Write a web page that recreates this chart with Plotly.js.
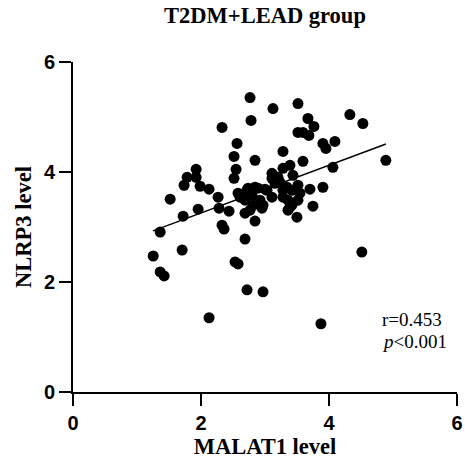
<!DOCTYPE html>
<html>
<head>
<meta charset="utf-8">
<script src="https://cdn.plot.ly/plotly-3.0.1.min.js"></script>
<style>html,body{margin:0;padding:0;background:#fff}#chart{width:465px;height:465px}</style>
</head>
<body>
<div id="chart"></div>
<script>
const malat1 = [2.766,2.782,2.329,3.125,3.515,3.671,3.764,3.515,3.593,3.686,3.905,3.952,4.092,4.326,4.529,4.888,4.061,3.281,2.844,3.593,3.109,3.203,3.281,3.390,3.437,3.702,3.905,3.749,3.499,2.844,3.515,2.563,2.516,2.548,2.516,1.924,1.783,1.924,1.736,1.986,2.126,1.518,2.267,2.579,2.719,2.282,2.438,1.955,1.721,1.362,2.329,2.360,2.688,1.253,1.705,1.362,1.424,2.532,2.579,2.719,2.969,2.126,3.874,4.513,2.610,2.688,2.688,2.844,3.000,3.156,3.234,3.281,3.343,3.421,3.515,3.546,3.109,2.922,2.969,2.953,3.281,3.359,3.390,3.359,2.813,2.766,2.735,2.891,2.797,3.203,3.109,3.421,3.031];
const nlrp3 = [5.353,4.937,4.810,5.154,5.245,4.973,4.828,4.719,4.719,4.665,4.520,4.429,4.556,5.045,4.882,4.212,4.085,4.375,4.212,4.194,3.976,3.904,4.067,4.121,3.940,3.687,3.723,3.379,3.179,3.107,3.487,4.520,4.284,4.049,3.886,4.049,3.904,3.904,3.759,3.741,3.687,3.505,3.542,3.614,3.668,3.342,3.288,3.324,3.197,2.908,3.034,2.962,2.781,2.473,2.582,2.183,2.111,2.364,2.328,1.857,1.821,1.350,1.241,2.545,3.542,3.487,3.252,3.723,3.687,3.795,3.813,3.668,3.723,3.668,3.759,3.614,3.542,3.487,3.397,3.342,3.542,3.487,3.361,3.306,3.397,3.306,3.705,3.705,3.578,3.850,3.886,3.397,3.668];
const fitX = [1.25, 4.89];
const fitY = [2.93, 4.51];
const tickVals = [0, 2, 4, 6];
const tickText = ['0', '2', '4', '6'];
const chartTitle = 'T2DM+LEAD group';
const xTitle = 'MALAT1 level';
const yTitle = 'NLRP3 level';
const statR = 'r=0.453';
const statP = '<i>p</i>&lt;0.001';

const serif = '"Liberation Serif", "Times New Roman", serif';
const sans = '"Liberation Sans", Arial, sans-serif';

const data = [
  {x: malat1, y: nlrp3, type: 'scatter', mode: 'markers',
   marker: {color: '#000', size: 11}, hoverinfo: 'skip', cliponaxis: false},
  {x: fitX, y: fitY, type: 'scatter', mode: 'lines',
   line: {color: '#000', width: 1.5}, hoverinfo: 'skip'}
];

const axisCommon = {
  range: [0, 6], tickvals: tickVals, ticktext: tickText,
  showline: true, linecolor: '#000', linewidth: 2,
  ticks: 'outside', ticklen: 12, tickwidth: 2, tickcolor: '#000',
  showgrid: false, zeroline: false,
  tickfont: {family: sans, size: 20, color: '#000', weight: 'bold'}
};

const layout = {
  width: 465, height: 465,
  margin: {l: 73, r: 8, t: 62, b: 73},
  paper_bgcolor: '#fff', plot_bgcolor: '#fff',
  showlegend: false,
  title: {text: '<b>' + chartTitle + '</b>', font: {family: serif, size: 22.5, color: '#000'},
          x: 0.5, xref: 'paper', y: 0.967, yanchor: 'middle'},
  xaxis: Object.assign({}, axisCommon, {
    title: {text: '<b>' + xTitle + '</b>', font: {family: serif, size: 22.5, color: '#000'}, standoff: 4}
  }),
  yaxis: Object.assign({}, axisCommon, {
    title: {text: '<b>' + yTitle + '</b>', font: {family: serif, size: 22.5, color: '#000'}, standoff: 6}
  }),
  annotations: [
    {x: 4.79, y: 1.326, xref: 'x', yref: 'y', text: statR, showarrow: false,
     xanchor: 'left', yanchor: 'middle', font: {family: serif, size: 19, color: '#000'}},
    {x: 4.79, y: 0.92, xref: 'x', yref: 'y', text: statP, showarrow: false,
     xanchor: 'left', yanchor: 'middle', font: {family: serif, size: 19, color: '#000'}}
  ]
};

Plotly.newPlot('chart', data, layout, {displayModeBar: false, staticPlot: true});
</script>
</body>
</html>
